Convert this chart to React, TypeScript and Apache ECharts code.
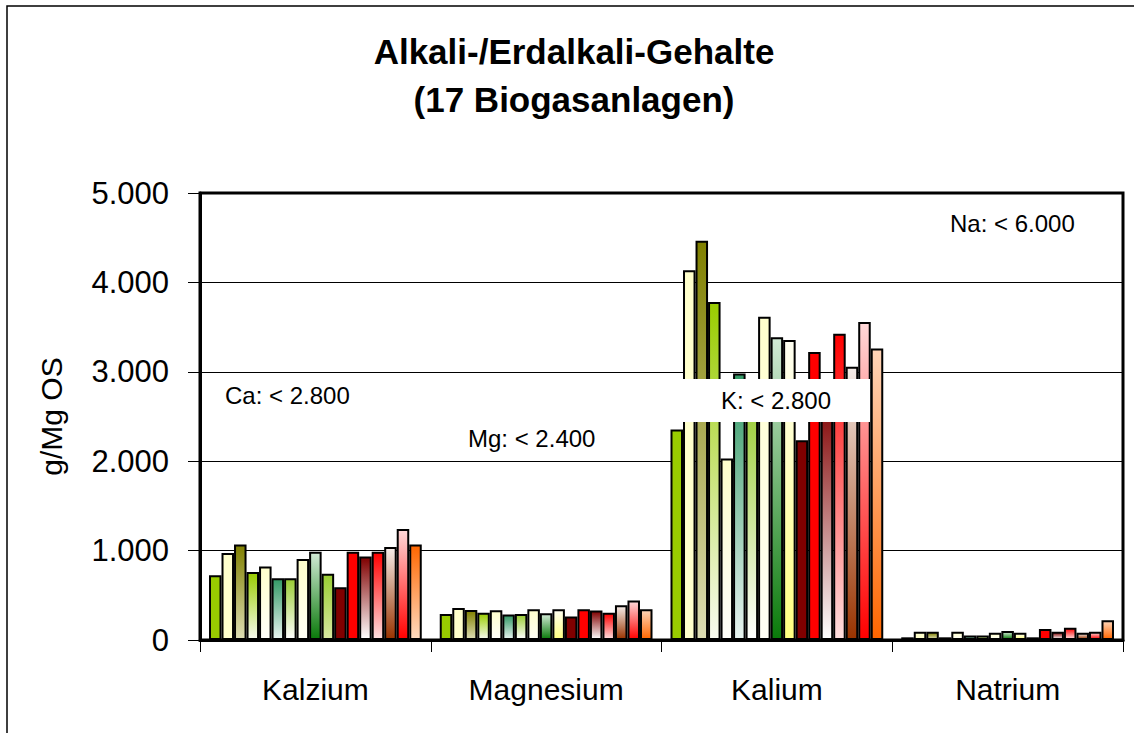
import React, { useEffect, useRef } from "react";
import * as echarts from "echarts";

const categories = ["Kalzium", "Magnesium", "Kalium", "Natrium"];
const yTicks = [0, 1000, 2000, 3000, 4000, 5000];

// one value per biogas plant (17 plants) for each element
const kalzium = [725, 972, 1069, 762, 822, 692, 692, 905, 987, 740, 591, 987, 934, 987, 1039, 1241, 1069];
const magnesium = [291, 359, 336, 306, 333, 284, 291, 344, 299, 344, 262, 344, 329, 306, 389, 441, 344];
const kalium = [2354, 4137, 4465, 3782, 2029, 2982, 2700, 3617, 3386, 3356, 2235, 3221, 2700, 3427, 3057, 3557, 3262];
const natrium = [30, 93, 93, 30, 93, 49, 49, 82, 101, 82, 30, 123, 93, 138, 82, 93, 221];

const plants = Array.from({ length: 17 }, (_, i) => `Anlage ${i + 1}`);

const annotations = [
  { text: "Ca: < 2.800" },
  { text: "Mg: < 2.400" },
  { text: "K: < 2.800" },
  { text: "Na: < 6.000" },
];

// [top colour, bottom colour]
const plantColors: [string, string][] = [
  ["#99CC00", "#99CC00"],
  ["#FFFFCC", "#FFFFCC"],
  ["#808000", "#DDDDB4"],
  ["#99CC00", "#F8FBF0"],
  ["#FFFFCC", "#FFFFFA"],
  ["#339966", "#E8F4F0"],
  ["#99CC33", "#FFFFFF"],
  ["#FFFFCC", "#FFFFF6"],
  ["#D2EAD6", "#0A7A0A"],
  ["#FFFFF2", "#FFFF80"],
  ["#800000", "#800000"],
  ["#FF0000", "#FF0000"],
  ["#800000", "#FFFFFF"],
  ["#FF0000", "#FFE0E0"],
  ["#F5ECE8", "#993300"],
  ["#FFD8D8", "#FF0000"],
  ["#FFD5B8", "#FF6600"],
];
// Kalzium bars drawn with a different fill in the original
const kalziumOverrides: Record<number, [string, string]> = {
  9: ["#99CC33", "#D8E8A0"],
  16: ["#FF6600", "#FFDCC0"],
};

const grad = (c: [string, string]) =>
  new echarts.graphic.LinearGradient(0, 0, 0, 1, [
    { offset: 0, color: c[0] },
    { offset: 1, color: c[1] },
  ]);

const FONT = "'Liberation Sans', Arial, sans-serif";

export default function App() {
  const ref = useRef<HTMLDivElement>(null);
  useEffect(() => {
    if (!ref.current) return;
    const chart = echarts.init(ref.current, undefined, { renderer: "svg" });
    const series = plants.map((name, i) => {
      const vals = [kalzium[i], magnesium[i], kalium[i], natrium[i]];
      return {
        name,
        type: "bar",
        barGap: "0%",
        barCategoryGap: "7.8%",
        itemStyle: { color: grad(plantColors[i]), borderColor: "#000", borderWidth: 2 },
        data: vals.map((v, j) =>
          j === 0 && kalziumOverrides[i]
            ? { value: v, itemStyle: { color: grad(kalziumOverrides[i]) } }
            : v
        ),
      };
    });
    chart.setOption({
      animation: false,
      backgroundColor: "#fff",
      textStyle: { fontFamily: FONT },
      title: {
        text: "Alkali-/Erdalkali-Gehalte\n(17 Biogasanlagen)",
        left: 569,
        top: 22,
        textAlign: "center",
        textStyle: { fontFamily: FONT, fontSize: 35, fontWeight: "bold", color: "#000", lineHeight: 48 },
      },
      grid: {
        left: 200,
        top: 193,
        right: 11,
        bottom: 93,
        show: true,
        borderColor: "#000",
        borderWidth: 3,
      },
      xAxis: {
        type: "category",
        data: categories,
        axisLine: { show: true, lineStyle: { color: "#000", width: 3 } },
        axisTick: { show: true, length: 12, lineStyle: { color: "#000", width: 1 } },
        axisLabel: { color: "#000", fontSize: 30, margin: 34, fontFamily: FONT },
      },
      yAxis: {
        type: "value",
        min: yTicks[0],
        max: yTicks[yTicks.length - 1],
        interval: 1000,
        name: "g/Mg OS",
        nameLocation: "middle",
        nameGap: 134,
        nameTextStyle: { color: "#000", fontSize: 30, fontFamily: FONT },
        axisLine: { show: true, lineStyle: { color: "#000", width: 3 } },
        axisTick: { show: true, length: 12, lineStyle: { color: "#000", width: 1 } },
        axisLabel: {
          color: "#000",
          fontSize: 31,
          margin: 31,
          fontFamily: FONT,
          formatter: (v: number) => String(v).replace(/\B(?=(\d{3})+(?!\d))/g, "."),
        },
        splitLine: { show: true, lineStyle: { color: "#000", width: 1 } },
      },
      series,
      graphic: [
        {
          type: "rect",
          silent: true,
          shape: { x: 7, y: 6, width: 1140, height: 740 },
          style: { fill: "none", stroke: "#000", lineWidth: 1.5 },
        },
        {
          type: "text",
          x: 225,
          y: 395,
          style: { text: annotations[0].text, fontSize: 24, fontFamily: FONT, fill: "#000", textVerticalAlign: "middle" },
          z: 100,
        },
        {
          type: "text",
          x: 468,
          y: 438,
          style: { text: annotations[1].text, fontSize: 24, fontFamily: FONT, fill: "#000", textVerticalAlign: "middle" },
          z: 100,
        },
        {
          type: "rect",
          shape: { x: 683, y: 379, width: 187, height: 43 },
          style: { fill: "#fff" },
          z: 100,
        },
        {
          type: "text",
          x: 776,
          y: 400,
          style: {
            text: annotations[2].text,
            fontSize: 24,
            fontFamily: FONT,
            fill: "#000",
            textAlign: "center",
            textVerticalAlign: "middle",
          },
          z: 101,
        },
        {
          type: "text",
          x: 950,
          y: 223,
          style: { text: annotations[3].text, fontSize: 24, fontFamily: FONT, fill: "#000", textVerticalAlign: "middle" },
          z: 100,
        },
      ],
    });
    return () => chart.dispose();
  }, []);
  return (
    <div
      ref={ref}
      style={{ position: "fixed", left: 0, top: 0, width: 1134, height: 733, background: "#fff" }}
    />
  );
}
